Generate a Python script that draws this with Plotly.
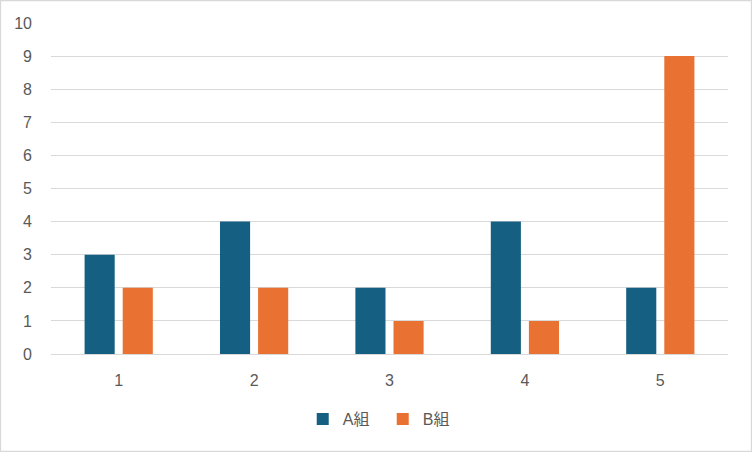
import plotly.graph_objects as go

# chart data
categories = ["1", "2", "3", "4", "5"]
group_a = [3, 4, 2, 4, 2]
group_b = [2, 2, 1, 1, 9]
y_ticks = list(range(0, 11))

FONT = "Liberation Sans, Arial, Noto Sans CJK JP, sans-serif"
GRID = "#d9d9d9"
TXT = "#595959"

fig = go.Figure()
fig.add_trace(go.Bar(x=categories, y=group_a, name="A組", marker=dict(color="#156082", line=dict(width=0))))
fig.add_trace(go.Bar(x=categories, y=group_b, name="B組", marker=dict(color="#e97132", line=dict(width=0))))

W, H = 752, 452
ml, mr, mt, mb = 51, 24, 23, 98
pw, ph = W - ml - mr, H - mt - mb

fig.update_layout(
    width=W, height=H,
    margin=dict(l=ml, r=mr, t=mt, b=mb, autoexpand=False),
    paper_bgcolor="white", plot_bgcolor="white",
    font=dict(family=FONT, size=16, color=TXT),
    barmode="group", bargap=0.437, bargroupgap=0.21,
    showlegend=True,
    legend=dict(orientation="h", x=0.49, xanchor="center", y=-0.145, yanchor="top",
                font=dict(size=16, color=TXT), itemwidth=30, traceorder="normal",
                entrywidth=35, entrywidthmode="pixels"),
    xaxis=dict(type="category", showgrid=False, showline=False, ticks="", automargin=False,
               tickfont=dict(size=16, color=TXT), ticklabelstandoff=15),
    yaxis=dict(range=[0, 10], tickvals=y_ticks, showgrid=True, gridcolor=GRID, gridwidth=1.3,
               zeroline=True, zerolinecolor=GRID, zerolinewidth=1.3, showline=False, ticks="",
               automargin=False, tickfont=dict(size=16, color=TXT), ticklabelstandoff=18),
    shapes=[dict(type="rect", xref="paper", yref="paper",
                 x0=(0.5 - ml) / pw, x1=(W - 0.5 - ml) / pw,
                 y0=(ph + mt - (H - 0.5)) / ph, y1=(ph + mt - 0.5) / ph,
                 line=dict(color=GRID, width=1.3), fillcolor="rgba(0,0,0,0)", layer="below")],
)

# drop the default page margin/scroll so the chart fills the window exactly
post = ("document.body.style.margin='0';"
        "document.body.style.overflow='hidden';"
        "document.documentElement.style.overflow='hidden';")
fig.write_html("out.html", config={"displayModeBar": False}, post_script=post)
